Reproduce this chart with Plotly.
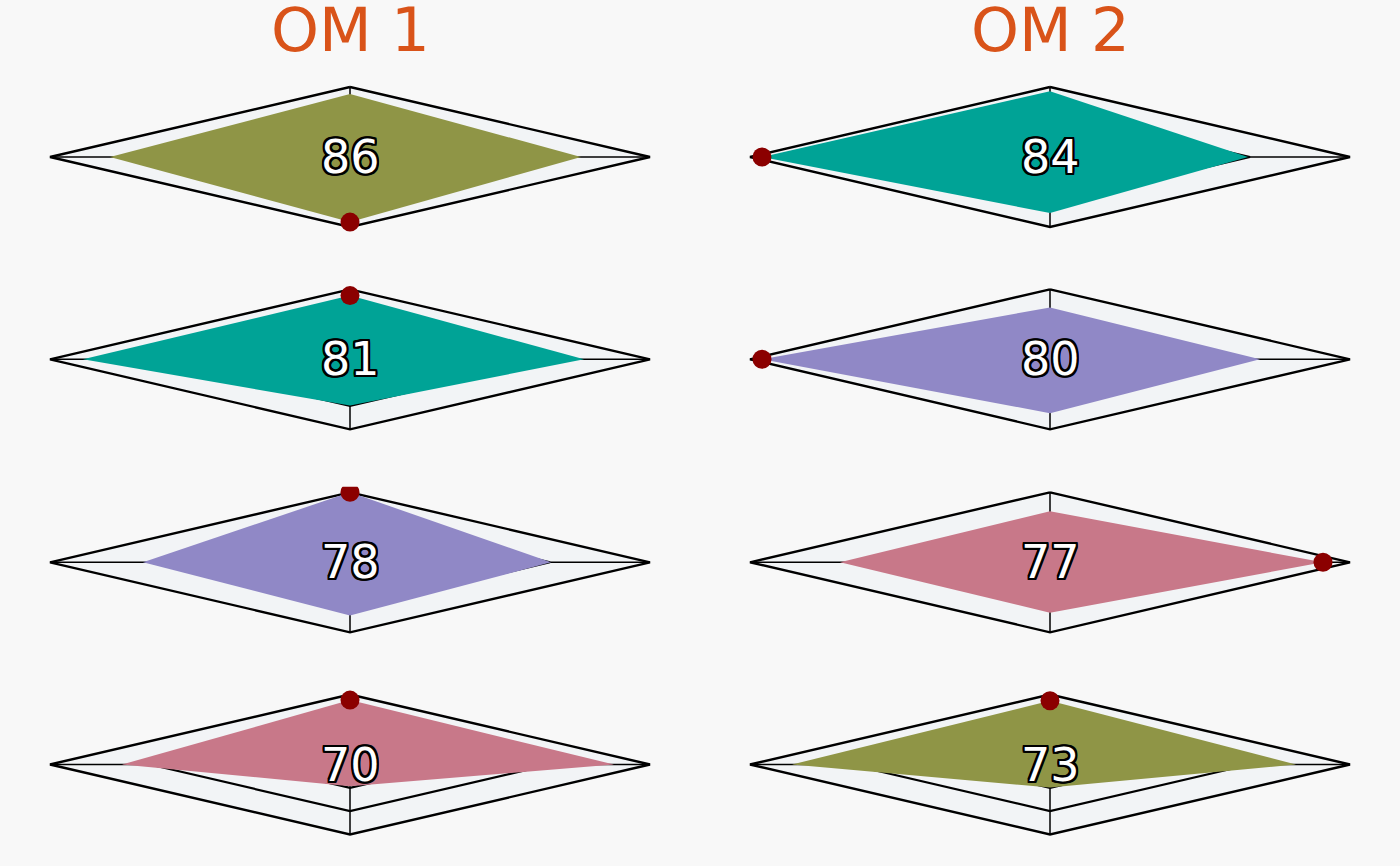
import plotly.graph_objects as go

# ---------------- data ----------------
col_titles = ["OM 1", "OM 2"]
axis_order = ["top", "right", "bottom", "left"]

# per-axis scores (0-100): top, right, bottom, left
om1_values = [
    [90, 77, 93, 80],
    [91, 78, 66, 89],
    [100, 67, 76, 69],
    [92, 88, 31, 76],
]
om2_values = [
    [94, 66, 80, 96],
    [74, 70, 77, 96],
    [73, 91, 72, 70],
    [91, 82, 33, 86],
]
om1_scores = [86, 81, 78, 70]
om2_scores = [84, 80, 77, 73]

om1_colors = ["#8F9546", "#00A396", "#9088C6", "#C87889"]
om2_colors = ["#00A396", "#9088C6", "#C87889", "#8F9546"]

grid_levels = [1 / 3, 2 / 3]

# ---------------- layout constants ----------------
W, H = 1400, 866
BG = "#F8F8F8"
DIAMOND_BG = "#F2F4F6"
DOT = "#8B0000"
TITLE_COLOR = "#D95319"
FONT = "DejaVu Sans"

col_cx = [350, 1050]
row_cy = [157, 359.3, 562.3, 764.5]
HALF_W, HALF_H = 300, 70
XPAD, YPAD = 1.05, 1.08

fig = go.Figure()
annotations = []
layout_axes = {}

panels = []
for c, (vals, scores, cols) in enumerate([(om1_values, om1_scores, om1_colors),
                                          (om2_values, om2_scores, om2_colors)]):
    for r in range(4):
        panels.append((c, r, vals[r], scores[r], cols[r]))

s = "2px"
shadow = ", ".join(f"{dx} {dy} 0 #000" for dx, dy in
                   [(s, s), ("-" + s, "-" + s), (s, "-" + s), ("-" + s, s),
                    ("0", s), (s, "0"), ("0", "-" + s), ("-" + s, "0"),
                    ("1px", "2px"), ("2px", "1px"), ("-1px", "-2px"), ("-2px", "-1px"),
                    ("1px", "-2px"), ("-2px", "1px"), ("-1px", "2px"), ("2px", "-1px")])

for i, (c, r, v, score, color) in enumerate(panels):
    n = i + 1
    xa = "x" if n == 1 else f"x{n}"
    ya = "y" if n == 1 else f"y{n}"
    cx, cy = col_cx[c], row_cy[r]
    x0 = (cx - HALF_W * XPAD) / W
    x1 = (cx + HALF_W * XPAD) / W
    y0 = 1 - (cy + HALF_H * YPAD) / H
    y1 = 1 - (cy - HALF_H * YPAD) / H
    key = "" if n == 1 else str(n)
    layout_axes[f"xaxis{key}"] = dict(domain=[x0, x1], range=[-XPAD, XPAD], visible=False,
                                      fixedrange=True, anchor=ya)
    layout_axes[f"yaxis{key}"] = dict(domain=[y0, y1], range=[-YPAD, YPAD], visible=False,
                                      fixedrange=True, anchor=xa)

    # background diamond (max = 100)
    fig.add_trace(go.Scatter(x=[0, 1, 0, -1, 0], y=[1, 0, -1, 0, 1], mode="lines",
                             fill="toself", fillcolor=DIAMOND_BG,
                             line=dict(color="black", width=2.4), xaxis=xa, yaxis=ya,
                             hoverinfo="skip", showlegend=False))
    # inner grid rings
    for g in grid_levels:
        fig.add_trace(go.Scatter(x=[0, g, 0, -g, 0], y=[g, 0, -g, 0, g], mode="lines",
                                 line=dict(color="black", width=2.2), xaxis=xa, yaxis=ya,
                                 hoverinfo="skip", showlegend=False))
    # spokes
    fig.add_trace(go.Scatter(x=[-1, 1, None, 0, 0], y=[0, 0, None, -1, 1], mode="lines",
                             line=dict(color="black", width=1.5), xaxis=xa, yaxis=ya,
                             hoverinfo="skip", showlegend=False))
    # value polygon
    t, rt, b, lf = [val / 100 for val in v]
    px = [0, rt, 0, -lf, 0]
    py = [t, 0, -b, 0, t]
    fig.add_trace(go.Scatter(x=px, y=py, mode="lines", fill="toself", fillcolor=color,
                             line=dict(color=color, width=0), xaxis=xa, yaxis=ya,
                             hoverinfo="skip", showlegend=False))
    # max marker
    k = max(range(4), key=lambda j: v[j])
    fig.add_trace(go.Scatter(x=[px[k]], y=[py[k]], mode="markers",
                             marker=dict(color=DOT, size=19, line=dict(width=0)),
                             xaxis=xa, yaxis=ya, hoverinfo="skip", showlegend=False))
    # score label
    annotations.append(dict(x=0, y=0, xref=xa, yref=ya, text=str(score), showarrow=False,
                            xanchor="center", yanchor="middle",
                            font=dict(family=FONT, size=46, color="white", shadow=shadow)))

for c, title in enumerate(col_titles):
    annotations.append(dict(x=col_cx[c] / W, y=1 - 30 / H, xref="paper", yref="paper",
                            text=title, showarrow=False, xanchor="center", yanchor="middle",
                            font=dict(family=FONT, size=61, color=TITLE_COLOR)))

fig.update_layout(width=W, height=H, margin=dict(l=0, r=0, t=0, b=0),
                  paper_bgcolor=BG, plot_bgcolor="rgba(0,0,0,0)",
                  annotations=annotations, showlegend=False, **layout_axes)

fig.write_html("out.html", config={"displayModeBar": False})
